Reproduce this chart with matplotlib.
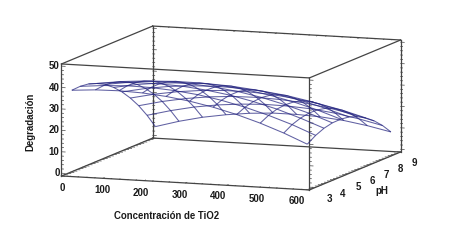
import numpy as np
import matplotlib
matplotlib.use('Agg')
import matplotlib.pyplot as plt

# valores
conc = [25, 82, 139, 196, 253, 310, 367, 424, 481, 538, 595]
ph = [3, 3.55, 4.1, 4.65, 5.2, 5.75, 6.3, 6.85, 7.4, 7.95, 8.5]
degr = [
    [39.0, 39.8, 40.0, 39.6, 38.6, 37.0, 34.8, 32.0, 28.6, 24.6, 20.0],
    [39.2, 40.2, 40.7, 40.5, 39.7, 38.4, 36.4, 33.8, 30.6, 26.9, 22.5],
    [38.7, 39.9, 40.6, 40.6, 40.1, 38.9, 37.2, 34.8, 31.9, 28.3, 24.2],
    [37.3, 38.8, 39.7, 39.9, 39.6, 38.7, 37.2, 35.1, 32.3, 29.0, 25.1],
    [35.2, 36.9, 38.0, 38.5, 38.4, 37.7, 36.4, 34.5, 32.0, 28.9, 25.2],
    [32.2, 34.2, 35.5, 36.2, 36.4, 35.9, 34.8, 33.2, 30.9, 28.0, 24.6],
    [28.5, 30.7, 32.3, 33.2, 33.6, 33.3, 32.5, 31.1, 29.0, 26.4, 23.1],
    [24.0, 26.4, 28.2, 29.4, 30.0, 30.0, 29.4, 28.1, 26.3, 23.9, 20.9],
    [18.8, 21.4, 23.4, 24.8, 25.6, 25.8, 25.4, 24.5, 22.9, 20.7, 17.9],
    [12.7, 15.5, 17.8, 19.4, 20.4, 20.9, 20.7, 20.0, 18.6, 16.6, 14.1],
    [5.8, 8.9, 11.4, 13.2, 14.5, 15.2, 15.2, 14.7, 13.6, 11.8, 9.5],
]
x_labels = ['0', '100', '200', '300', '400', '500', '600']
ph_labels = ['3', '4', '5', '6', '7', '8', '9']
z_labels = ['0', '10', '20', '30', '40', '50']

# posiciones de los textos en pixeles
x_label_pos = [(62, 188), (102, 190), (141, 193), (180, 195), (218, 196), (257, 199), (297, 201)]
ph_label_pos = [(329, 199), (343, 194), (358, 187), (372, 181), (386, 175), (400, 169), (414, 163)]
z_label_pos = [(57, 173), (54, 152), (54, 130), (54, 109), (54, 88), (54, 66)]

xlim = (0, 600)
ylim = (3, 9)
zlim = (-1.3, 51)

plt.rcParams['font.family'] = ['Liberation Sans', 'DejaVu Sans']

fig = plt.figure(figsize=(4.51, 2.40), dpi=100)
ax = fig.add_axes([0.0807, -0.2608, 0.8404, 1.579], projection='3d', proj_type='ortho')
ax.view_init(elev=8.8, azim=-69.8)
ax.set_box_aspect((264, 264, 113.3))
ax.set_xlim(xlim)
ax.set_ylim(ylim)
ax.set_zlim(zlim)
ax.set_axis_off()

X, Y = np.meshgrid(conc, ph)
ax.plot_wireframe(X, Y, np.array(degr), rstride=1, cstride=1, color='#23237f', alpha=0.72, linewidth=0.75)

# caja
box = '#444444'
for y in ylim:
    for z in zlim:
        ax.plot(xlim, [y, y], [z, z], color=box, lw=0.9)
for x in xlim:
    for z in zlim:
        ax.plot([x, x], ylim, [z, z], color=box, lw=0.9)
for x in xlim:
    for y in ylim:
        ax.plot([x, x], [y, y], zlim, color=box, lw=0.9)

# marcas de los ejes
for x, y in [(0, 3), (0, 9), (600, 3), (600, 9)]:
    for v in range(0, 51, 2):
        d = 9 if v % 10 == 0 else 5
        ax.plot([x, x + d], [y, y], [v, v], color=box, lw=0.5)
for v in range(0, 601, 20):
    d = 0.1 if v % 100 == 0 else 0.05
    ax.plot([v, v], [3, 3 + d], [zlim[0], zlim[0]], color=box, lw=0.5)
    ax.plot([v, v], [9 - d, 9], [zlim[1], zlim[1]], color=box, lw=0.5)
for v in np.arange(3, 9.01, 0.2):
    ax.plot([0, 8], [v, v], [zlim[0], zlim[0]], color=box, lw=0.5)
    ax.plot([600, 592], [v, v], [zlim[0], zlim[0]], color=box, lw=0.5)


def put(px, py, s, **kw):
    fig.text(px / 451, 1 - py / 240, s, ha='center', va='center', fontweight='bold',
             color='#1a1a1a', **kw)


for (px, py), s in zip(x_label_pos, x_labels):
    put(px, py, s, fontsize=7)
for (px, py), s in zip(ph_label_pos, ph_labels):
    put(px, py, s, fontsize=7)
for (px, py), s in zip(z_label_pos, z_labels):
    put(px, py, s, fontsize=7)
put(167, 216, 'Concentración de TiO2', fontsize=6.9)
put(382, 191, 'pH', fontsize=7)
put(30, 122, 'Degradación', fontsize=6.9, rotation=90)

fig.savefig('out.png', dpi=100)
